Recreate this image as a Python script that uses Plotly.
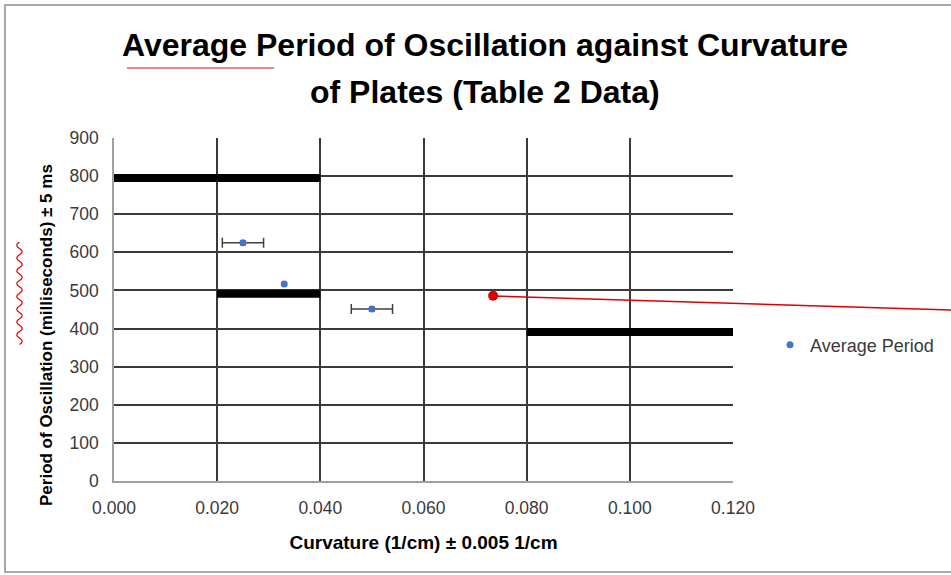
import plotly.graph_objects as go

# ---- data ----
curvature = [0.025, 0.033, 0.050]
avg_period = [625, 517, 451]
curv_err = [0.004, 0.0, 0.004]
period_err = [5, 0, 5]
has_err = [True, False, True]

# overlaid thick black bars (drawn over the chart)
bar_x_start = [0.000, 0.020, 0.080]
bar_x_end = [0.040, 0.040, 0.120]
bar_y = [795, 491, 391]

# red annotation dot
red_dot_x = [0.0735]
red_dot_y = [486]

x_ticks = [0.000, 0.020, 0.040, 0.060, 0.080, 0.100, 0.120]
x_tick_labels = ["0.000", "0.020", "0.040", "0.060", "0.080", "0.100", "0.120"]
y_ticks = [0, 100, 200, 300, 400, 500, 600, 700, 800, 900]

title_lines = ["Average Period of Oscillation against Curvature", "of Plates (Table 2 Data)"]
x_title = "Curvature (1/cm) ± 0.005 1/cm"
y_title = "Period of Oscillation (milliseconds) ± 5 ms"

W, H = 951, 575
L, R, T, B = 114, 218, 138, 94
PW, PH = W - L - R, H - T - B


def px(xp):
    return (xp - L) / PW


def py(yp):
    return (H - B - yp) / PH


BOLD = "Liberation Sans, Arial, sans-serif"
REG = "Liberation Sans, Arial, sans-serif"
GRID = "#3a3a3a"

fig = go.Figure()

ix_e = [i for i, h in enumerate(has_err) if h]
ix_n = [i for i, h in enumerate(has_err) if not h]

fig.add_trace(go.Scatter(
    x=[curvature[i] for i in ix_e], y=[avg_period[i] for i in ix_e],
    mode="markers", name="Average Period", legendgroup="avg",
    marker=dict(color="#4472C4", size=7),
    error_x=dict(type="data", array=[curv_err[i] for i in ix_e], color="#404040", thickness=1.5, width=5),
    error_y=dict(type="data", array=[period_err[i] for i in ix_e], color="#404040", thickness=1.5, width=3),
))
fig.add_trace(go.Scatter(
    x=[curvature[i] for i in ix_n], y=[avg_period[i] for i in ix_n],
    mode="markers", name="Average Period", legendgroup="avg", showlegend=False,
    marker=dict(color="#4472C4", size=7),
))

for x0, x1, yv in zip(bar_x_start, bar_x_end, bar_y):
    fig.add_trace(go.Scatter(
        x=[x0, x1], y=[yv, yv], mode="lines", showlegend=False, hoverinfo="skip",
        line=dict(color="black", width=8),
    ))

fig.add_trace(go.Scatter(
    x=red_dot_x, y=red_dot_y, mode="markers", showlegend=False,
    marker=dict(color="#e00000", size=10), cliponaxis=False,
))

shapes = []
shapes.append(dict(type="line", xref="paper", yref="paper",
                   x0=px(493), y0=py(296), x1=px(951), y1=py(310),
                   line=dict(color="#e00000", width=1.5), layer="above"))
shapes.append(dict(type="line", xref="paper", yref="paper",
                   x0=px(127), y0=py(68), x1=px(274), y1=py(68),
                   line=dict(color="#e06060", width=1.5)))
# wavy red squiggle (smooth quadratic curves)
yy = 242
seg = []
side = 0
start = (px(19.5), py(yy))
while yy < 338:
    cx = 14 if side == 0 else 25
    seg.append(f"Q {px(cx):.5f},{py(yy + 3.2):.5f} {px(19.5):.5f},{py(yy + 6.4):.5f}")
    yy += 6.4
    side = 1 - side
path = f"M {start[0]:.5f},{start[1]:.5f} " + " ".join(seg)
shapes.append(dict(type="path", xref="paper", yref="paper", path=path,
                   line=dict(color="#e00000", width=1.2)))
shapes.append(dict(type="rect", xref="paper", yref="paper",
                   x0=px(5), y0=py(572), x1=px(960), y1=py(5),
                   line=dict(color="#a8a8a8", width=2), layer="below"))

annotations = []
for text, ypix in zip(title_lines, [45, 92]):
    annotations.append(dict(
        text=text, xref="paper", yref="paper", x=px(485), y=py(ypix),
        xanchor="center", yanchor="middle", showarrow=False,
        font=dict(family=BOLD, size=32, color="black", weight="bold"),
    ))
annotations.append(dict(
    text=y_title, xref="paper", yref="paper", x=px(46), y=py(335),
    xanchor="center", yanchor="middle", showarrow=False, textangle=-90,
    font=dict(family=BOLD, size=17, color="black", weight="bold"),
))

fig.update_layout(
    width=W, height=H,
    margin=dict(l=L, r=R, t=T, b=B, autoexpand=False),
    paper_bgcolor="white", plot_bgcolor="white",
    xaxis=dict(
        range=[0, 0.120], tickvals=x_ticks, ticktext=x_tick_labels,
        showgrid=True, gridcolor=GRID, gridwidth=1.5,
        showline=True, linecolor="#a0a0a0", linewidth=1.5,
        zeroline=False, ticks="", ticklabelstandoff=10, automargin=False,
        tickfont=dict(family=REG, size=17.5, color="#3a3a3a"),
        title=dict(text=x_title,
                   font=dict(family=BOLD, size=19, color="black", weight="bold"),
                   standoff=19),
    ),
    yaxis=dict(
        range=[0, 900], tickvals=y_ticks,
        showgrid=True, gridcolor=GRID, gridwidth=1.5,
        showline=True, linecolor="#a0a0a0", linewidth=1.5,
        zeroline=False, ticks="", ticklabelstandoff=10, automargin=False,
        tickfont=dict(family=REG, size=17.5, color="#3a3a3a"),
    ),
    legend=dict(x=px(770), y=py(345), xanchor="left", yanchor="middle",
                font=dict(family=REG, size=18, color="#3a3a3a"),
                bgcolor="rgba(0,0,0,0)", itemwidth=30),
    shapes=shapes,
    annotations=annotations,
    showlegend=True,
)

fig.write_html("out.html", config={"displayModeBar": False},
               post_script="document.body.style.margin='0';document.body.style.overflow='hidden';")
